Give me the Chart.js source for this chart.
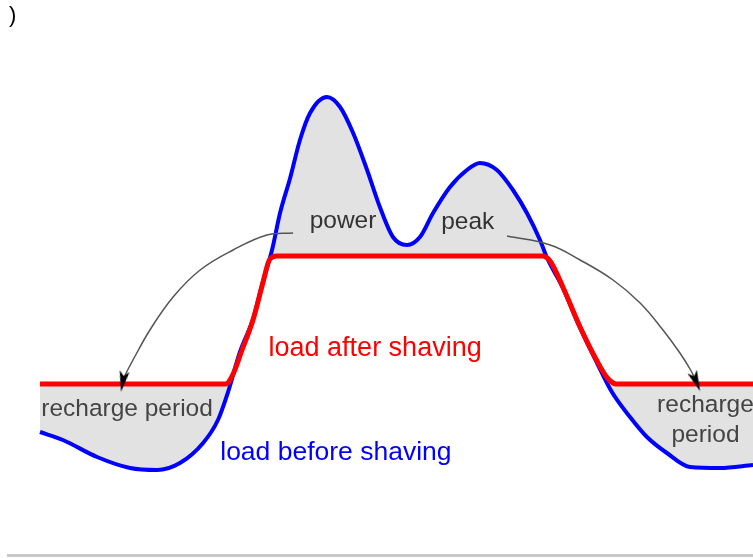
<!DOCTYPE html>
<html>
<head>
<meta charset="utf-8">
<script src="https://cdn.jsdelivr.net/npm/chart.js@4.4.0/dist/chart.umd.min.js"></script>
<style>
  body { margin: 0; background: #fff; }
  #wrap { position: relative; width: 753px; height: 558px; }
  #rule { position: absolute; left: 7px; right: 0; top: 554px; height: 3px; background: #c8c8c8; }
</style>
</head>
<body>
<div id="wrap">
  <canvas id="shaving" width="753" height="558"></canvas>
  <div id="rule"></div>
</div>
<script>
// time of day (h) / load (arbitrary units)
const beforeHours = [0, 0.77, 1.92, 3.03, 3.94, 4.71, 5.49, 5.99, 6.33, 6.73, 7.17, 7.51, 7.81, 8.08, 8.42,
  8.75, 9.09, 9.66, 10.1, 10.54, 11.01, 11.44, 11.88, 12.35, 12.79, 13.23, 13.8, 14.37, 14.81, 15.38,
  15.92, 16.39, 16.83, 17.07, 17.6, 18.18, 18.75, 19.25, 19.86, 20.43, 21.1, 21.88, 22.89, 24];
const beforeLoad = [17, 15, 10.75, 8, 7.5, 9.25, 14.25, 20, 27, 37, 45.25, 54.75, 62.5, 71.75, 80.5,
  90, 96.75, 100.75, 98.25, 91.75, 82.5, 73.25, 65.75, 63.75, 65.75, 71.75, 78.25, 82.5, 84.25, 82.5,
  77.5, 71.75, 65, 60.5, 53, 43, 34.25, 27, 20.75, 15.75, 11.75, 8.25, 8, 8.75];

const afterHours = [0, 6.25, 6.5, 6.8, 7.17, 7.51, 7.72, 7.98, 16.9, 17.17, 17.6, 18.18, 18.75, 19.1, 19.4, 24];
const afterLoad = [29, 29, 31.5, 37.5, 45, 54.5, 60, 61, 61, 59.75, 53.25, 43.25, 34.75, 30.5, 29, 29];

const arrowLeftHours = [8.52, 7.64, 6.5, 5.39, 4.48, 3.7, 3.13, 2.85, 2.79];
const arrowLeftLoad = [66.75, 66.25, 62.5, 57.5, 50.75, 42.5, 35, 31, 29.75];
const arrowRightHours = [15.72, 17.17, 18.18, 19.29, 20.2, 20.97, 21.54, 21.9, 22.08];
const arrowRightLoad = [66, 63.75, 60, 55, 49.25, 42.5, 36.75, 32.5, 29.75];

const labelTexts = ['power', 'peak', 'load after shaving', 'recharge period', 'recharge', 'period', 'load before shaving', ')'];
const labelHours = [10.2, 14.4, 11.28, 2.93, 22.4, 22.4, 9.96, -0.92];
const labelLoad = [69.75, 69.5, 37.75, 22.75, 23.75, 16.25, 11.75, 121];

const toPoints = (xs, ys) => xs.map((x, i) => ({ x: x, y: ys[i] }));

// narrow barbed arrowhead, pointing up before rotation
const head = document.createElement('canvas');
head.width = 12;
head.height = 22;
(function () {
  const c = head.getContext('2d');
  c.fillStyle = '#000';
  c.beginPath();
  c.moveTo(6, 0);
  c.lineTo(11, 21);
  c.lineTo(6, 16);
  c.lineTo(1, 21);
  c.closePath();
  c.fill();
})();

function arrowSet(xs, ys, rot) {
  const n = xs.length;
  return {
    data: toPoints(xs, ys),
    borderColor: '#555',
    borderWidth: 1.5,
    tension: 0.4,
    fill: false,
    pointStyle: xs.map((_, i) => i === n - 1 ? head : false),
    pointRadius: xs.map((_, i) => i === n - 1 ? 6 : 0),
    pointRotation: rot
  };
}

const labelStyle = [
  { color: '#333', size: 24.5 },
  { color: '#333', size: 24.5 },
  { color: '#ff0000', size: 27 },
  { color: '#444', size: 24.5 },
  { color: '#444', size: 24.5 },
  { color: '#444', size: 24.5 },
  { color: '#0000ff', size: 26.5 },
  { color: '#000', size: 22 }
];

const textPlugin = {
  id: 'texts',
  afterDatasetsDraw(chart) {
    const { ctx, scales } = chart;
    ctx.save();
    ctx.textAlign = 'center';
    ctx.textBaseline = 'middle';
    labelTexts.forEach((t, i) => {
      ctx.font = labelStyle[i].size + 'px "Liberation Sans", Arial, sans-serif';
      ctx.fillStyle = labelStyle[i].color;
      ctx.fillText(t, scales.x.getPixelForValue(labelHours[i]), scales.y.getPixelForValue(labelLoad[i]));
    });
    ctx.restore();
  }
};

new Chart(document.getElementById('shaving'), {
  type: 'line',
  data: {
    datasets: [
      arrowSet(arrowLeftHours, arrowLeftLoad, 190),
      arrowSet(arrowRightHours, arrowRightLoad, 158),
      {
        label: 'load after shaving',
        data: toPoints(afterHours, afterLoad),
        borderColor: '#ff0000',
        borderWidth: 5,
        cubicInterpolationMode: 'monotone',
        pointRadius: 0,
        fill: false
      },
      {
        label: 'load before shaving',
        data: toPoints(beforeHours, beforeLoad),
        borderColor: '#0000ff',
        borderWidth: 4,
        cubicInterpolationMode: 'monotone',
        pointRadius: 0,
        backgroundColor: '#e2e2e2',
        fill: { target: 2, above: '#e2e2e2', below: '#e2e2e2' }
      }
    ]
  },
  options: {
    responsive: false,
    animation: false,
    layout: { padding: 0, autoPadding: false },
    plugins: { legend: { display: false }, tooltip: { enabled: false } },
    scales: {
      x: { type: 'linear', min: -1.3465, max: 24, display: false },
      y: { type: 'linear', min: -14.5, max: 125, display: false }
    }
  },
  plugins: [textPlugin]
});
</script>
</body>
</html>
